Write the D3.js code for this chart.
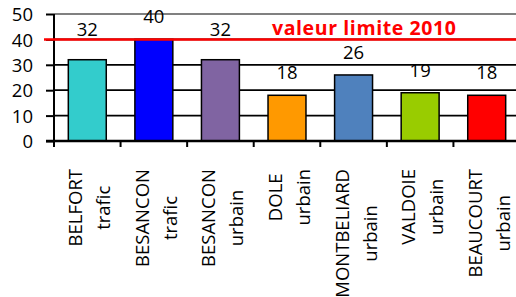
<!DOCTYPE html>
<html>
<head>
<meta charset="utf-8">
<script src="https://cdn.jsdelivr.net/npm/d3@7"></script>
<style>
  body { margin: 0; background: #fff; }
  svg { display: block; font-family: "Open Sans", sans-serif; }
</style>
</head>
<body>
<svg id="chart" width="516" height="297"></svg>
<script>
// station names (2 lines each) and annual mean values
const stations = ["BELFORT", "BESANCON", "BESANCON", "DOLE", "MONTBELIARD", "VALDOIE", "BEAUCOURT"];
const types = ["trafic", "trafic", "urbain", "urbain", "urbain", "urbain", "urbain"];
const values = [32, 40, 32, 18, 26, 19, 18];
const colors = ["#33cccc", "#0000ff", "#8064a2", "#ff9900", "#4f81bd", "#99cc00", "#ff0000"];
const yTicks = [0, 10, 20, 30, 40, 50];
const limitValue = 40;
const limitLabel = "valeur limite 2010";

const svg = d3.select('#chart');
const margin = {left: 54, top: 14, bottom: 141, right: 520};

const x = d3.scaleBand()
  .domain(d3.range(values.length))
  .range([margin.left, margin.right])
  .paddingInner(0.43)
  .paddingOuter(0.215);

const y = d3.scaleLinear().domain([0, 50]).range([margin.bottom, margin.top]);

// gridlines
svg.append('g').selectAll('line')
  .data(yTicks.filter(d => d > 0 && d < 50))
  .join('line')
  .attr('x1', margin.left).attr('x2', 516)
  .attr('y1', d => y(d)).attr('y2', d => y(d))
  .attr('stroke', '#000').attr('stroke-width', 1.8);

// top border (50)
svg.append('line')
  .attr('x1', margin.left).attr('x2', 516)
  .attr('y1', y(50)).attr('y2', y(50))
  .attr('stroke', '#808080').attr('stroke-width', 2);

// y axis
const yAxis = svg.append('g')
  .attr('transform', `translate(${margin.left},0)`)
  .call(d3.axisLeft(y).tickValues(yTicks).tickSize(8).tickPadding(13));
yAxis.select('.domain').remove();
yAxis.selectAll('.tick line').attr('stroke', '#000').attr('stroke-width', 2);
yAxis.selectAll('.tick text')
  .attr('font-family', '"Open Sans", sans-serif')
  .attr('font-size', 18.5).attr('fill', '#000').attr('dy', '0.36em');
svg.append('line')
  .attr('x1', margin.left).attr('x2', margin.left)
  .attr('y1', y(50)).attr('y2', margin.bottom + 6)
  .attr('stroke', '#000').attr('stroke-width', 2);

// bars
svg.append('g').selectAll('rect')
  .data(values)
  .join('rect')
  .attr('x', (d, i) => x(i))
  .attr('width', x.bandwidth())
  .attr('y', d => y(d))
  .attr('height', d => y(0) - y(d))
  .attr('fill', (d, i) => colors[i])
  .attr('stroke', '#000').attr('stroke-width', 1.5);

// x axis line + ticks at band boundaries
svg.append('line')
  .attr('x1', margin.left - 8).attr('x2', 516)
  .attr('y1', y(0)).attr('y2', y(0))
  .attr('stroke', '#000').attr('stroke-width', 2.5);
svg.append('g').selectAll('line')
  .data(d3.range(1, values.length + 1))
  .join('line')
  .attr('x1', i => margin.left + i * x.step()).attr('x2', i => margin.left + i * x.step())
  .attr('y1', y(0)).attr('y2', y(0) + 6)
  .attr('stroke', '#000').attr('stroke-width', 2);

// limit line
svg.append('line')
  .attr('x1', margin.left - 10).attr('x2', 516)
  .attr('y1', y(limitValue)).attr('y2', y(limitValue))
  .attr('stroke', '#ff0000').attr('stroke-width', 2.5);
svg.append('text')
  .attr('x', 272).attr('y', y(limitValue) - 4)
  .attr('fill', '#ff0000').attr('font-weight', 'bold').attr('font-size', 19.5)
  .attr('letter-spacing', 0.6)
  .text(limitLabel);

// value labels (moved above the limit line when they would cross it)
svg.append('g').selectAll('text')
  .data(values)
  .join('text')
  .attr('x', (d, i) => x(i) + x.bandwidth() / 2)
  .attr('y', d => {
    const base = y(d) - 16;
    return (base > y(limitValue) - 3 && base - 13 < y(limitValue)) ? y(limitValue) - 3 : base;
  })
  .attr('text-anchor', 'middle').attr('font-size', 18.5).attr('fill', '#000')
  .text(d => d);

// category labels, rotated, two lines
const labelTop = 169;
const cat = svg.append('g').selectAll('g')
  .data(values)
  .join('g');
cat.each(function (d, i) {
  const g = d3.select(this);
  const cx = x(i) + x.bandwidth() / 2;
  const lines = [stations[i], types[i]];
  const texts = lines.map((t, k) => g.append('text')
    .attr('font-size', 18.5).attr('fill', '#000')
    .attr('text-anchor', 'middle')
    .text(t));
  const maxLen = d3.max(texts, t => t.node().getComputedTextLength());
  const cy = labelTop + maxLen / 2;
  texts.forEach((t, k) => {
    const bx = cx + (k === 0 ? -5 : 23);
    t.attr('transform', `translate(${bx},${cy}) rotate(-90)`);
  });
});
</script>
</body>
</html>
